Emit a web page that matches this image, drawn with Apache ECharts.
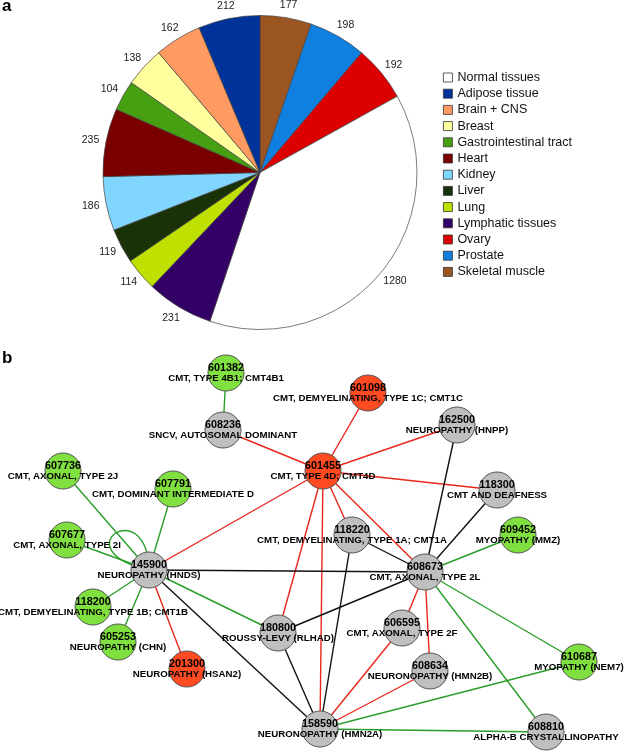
<!DOCTYPE html>
<html>
<head>
<meta charset="utf-8">
<script src="https://cdn.jsdelivr.net/npm/echarts@6/dist/echarts.min.js"></script>
<style>
html,body{margin:0;padding:0;background:#fff;}
#main{width:627px;height:753px;}
</style>
</head>
<body>
<div id="main"></div>
<script>
// ---- Panel a: pie data (clockwise from 12 o'clock) ----
const tissueNames = ['Skeletal muscle','Prostate','Ovary','Normal tissues','Lymphatic tissues','Lung','Liver','Kidney','Heart','Gastrointestinal tract','Breast','Brain + CNS','Adipose tissue'];
const tissueCounts = [177,198,192,1280,231,114,119,186,235,104,138,162,212];
const tissueColors = ['#9a5520','#0f7fe0','#dd0000','#ffffff','#330066','#bfe000','#1a3208','#80d6ff','#7a0000','#46a012','#ffff9e','#ff9a62','#003399'];
const legendOrder = ['Normal tissues','Adipose tissue','Brain + CNS','Breast','Gastrointestinal tract','Heart','Kidney','Liver','Lung','Lymphatic tissues','Ovary','Prostate','Skeletal muscle'];

// ---- Panel b: network data ----
const nodeIds = ['601382','608236','601098','162500','601455','118300','607736','607791','607677','145900','118220','609452','608673','118200','605253','180800','606595','201300','608634','610687','158590','608810'];
const nodeNames = ['CMT, TYPE 4B1; CMT4B1','SNCV, AUTOSOMAL DOMINANT','CMT, DEMYELINATING, TYPE 1C; CMT1C','NEUROPATHY (HNPP)','CMT, TYPE 4D; CMT4D','CMT AND DEAFNESS','CMT, AXONAL, TYPE 2J','CMT, DOMINANT INTERMEDIATE D','CMT, AXONAL, TYPE 2I','NEUROPATHY (HNDS)','CMT, DEMYELINATING, TYPE 1A; CMT1A','MYOPATHY (MMZ)','CMT, AXONAL, TYPE 2L','CMT, DEMYELINATING, TYPE 1B; CMT1B','NEUROPATHY (CHN)','ROUSSY-LEVY (RLHAD)','CMT, AXONAL, TYPE 2F','NEUROPATHY (HSAN2)','NEURONOPATHY (HMN2B)','MYOPATHY (NEM7)','NEURONOPATHY (HMN2A)','ALPHA-B CRYSTALLINOPATHY'];
const nodeGroups = ['green','gray','red','gray','red','gray','green','green','green','gray','gray','green','gray','green','green','gray','gray','red','gray','green','gray','gray'];
const nodeX = [226,223,368,457,323,497,63,173,67,149,352,518,425,93,118,278,402,187,430,579,320,546];
const nodeY = [373,430,393,425,471,490,471,489,540,570,535,535,572,607,642,633,628,669,671,662,729,732];

const edgeSources = ['601382','607736','607791','607677','118200','605253','145900','608673','608673','608673','158590','158590',
  '608236','601098','162500','118300','601455','601455','601455','601455','601455','145900','608673','608673','606595','608634',
  '162500','118300','118220','118220','145900','145900','180800','180800'];
const edgeTargets = ['608236','145900','145900','145900','145900','145900','180800','609452','610687','608810','610687','608810',
  '601455','601455','601455','601455','145900','180800','158590','118220','608673','201300','606595','608634','158590','158590',
  '608673','608673','608673','158590','608673','158590','608673','158590'];
const edgeKinds = ['green','green','green','green','green','green','green','green','green','green','green','green',
  'red','red','red','red','red','red','red','red','red','red','red','red','red','red',
  'black','black','black','black','black','black','black','black'];
// self-loop edges (source === target)
const loopNodes = ['145900'];
const loopKinds = ['green'];

const nodeFill = {green:'#80e040', red:'#ff4a22', gray:'#bfbfbf'};
const edgeColor = {green:'#2a9e2a', red:'#e8281c', black:'#111111'};
const FONT = 'Liberation Sans, Arial, sans-serif';

const chart = echarts.init(document.getElementById('main'), null, {renderer:'canvas'});

const total = tissueCounts.reduce((a,b)=>a+b,0);
const midAngles = [];
{ let acc = 0; tissueCounts.forEach(v=>{ midAngles.push((acc + v/2)/total*2*Math.PI); acc += v; }); }

const pieData = tissueNames.map((n,i)=>({name:n, value:tissueCounts[i], itemStyle:{color:tissueColors[i]}}));
const graphNodes = nodeIds.map((id,i)=>({
  name:id, value:[nodeX[i], nodeY[i]],
  itemStyle:{color:nodeFill[nodeGroups[i]]},
  label:{formatter:'{n|'+id+'}\n{t|'+nodeNames[i]+'}'}
}));
const graphLinks = edgeSources.map((s,i)=>({
  source:s, target:edgeTargets[i],
  lineStyle:{color:edgeColor[edgeKinds[i]]}
}));
const loopData = loopNodes.map((id,i)=>{
  const k = nodeIds.indexOf(id);
  return {value:[nodeX[k], nodeY[k]], kind:loopKinds[i]};
});

chart.setOption({
  animation:false,
  backgroundColor:'#fff',
  graphic:[
    {type:'text', left:2, top:-2, style:{text:'a', font:'bold 17px '+FONT, fill:'#000'}},
    {type:'text', left:2, top:350, style:{text:'b', font:'bold 17px '+FONT, fill:'#000'}}
  ],
  legend:{
    orient:'vertical', left:443, top:71, padding:0,
    data:legendOrder, icon:'rect', itemWidth:9, itemHeight:9, itemGap:3.2,
    itemStyle:{borderColor:'#333', borderWidth:0.8},
    textStyle:{fontFamily:FONT, fontSize:12.5, color:'#111', lineHeight:12},
    selectedMode:false
  },
  grid:{left:0, right:0, top:0, bottom:0},
  xAxis:{type:'value', min:0, max:627, show:false},
  yAxis:{type:'value', min:0, max:753, inverse:true, show:false},
  series:[
    {
      type:'pie', center:[260,172.5], radius:157, startAngle:90, clockwise:true,
      avoidLabelOverlap:false, data:pieData,
      itemStyle:{borderColor:'#444', borderWidth:0.7},
      label:{show:true, position:'outside', formatter:'{c}', fontFamily:FONT, fontSize:10.5, color:'#222', distanceToLabelLine:0},
      labelLine:{show:false, length:7, length2:0},
      labelLayout:function(p){
        const a = midAngles[p.dataIndex];
        const dx = Math.sin(a), dy = -Math.cos(a);
        const w = p.labelRect.width, h = p.labelRect.height;
        return {dx: dx*w/2 - Math.sign(dx)*w/2, dy: dy*h/2};
      },
      emphasis:{disabled:true}
    },
    {
      type:'custom', coordinateSystem:'cartesian2d', z:1, data:loopData, silent:true,
      renderItem:function(params, api){
        const p = api.coord([api.value(0), api.value(1)]);
        const kind = loopData[params.dataIndex].kind;
        return {type:'bezierCurve', shape:{x1:p[0], y1:p[1], x2:p[0], y2:p[1],
          cpx1:p[0]-88, cpy1:p[1]-20, cpx2:p[0]-2, cpy2:p[1]-78},
          style:{stroke:edgeColor[kind], fill:null, lineWidth:1.4}};
      }
    },
    {
      type:'graph', coordinateSystem:'cartesian2d', layout:'none', z:2,
      data:graphNodes, links:graphLinks,
      symbol:'circle', symbolSize:36,
      itemStyle:{borderColor:'#555', borderWidth:1},
      lineStyle:{width:1.4, opacity:1},
      label:{show:true, position:'inside', offset:[0,0.5],
        rich:{
          n:{fontFamily:FONT, fontSize:10.8, fontWeight:'bold', color:'#000', lineHeight:10.5, align:'center'},
          t:{fontFamily:FONT, fontSize:9.7, fontWeight:'bold', color:'#000', lineHeight:10.5, align:'center'}
        }
      },
      emphasis:{disabled:true}
    }
  ]
});
</script>
</body>
</html>
